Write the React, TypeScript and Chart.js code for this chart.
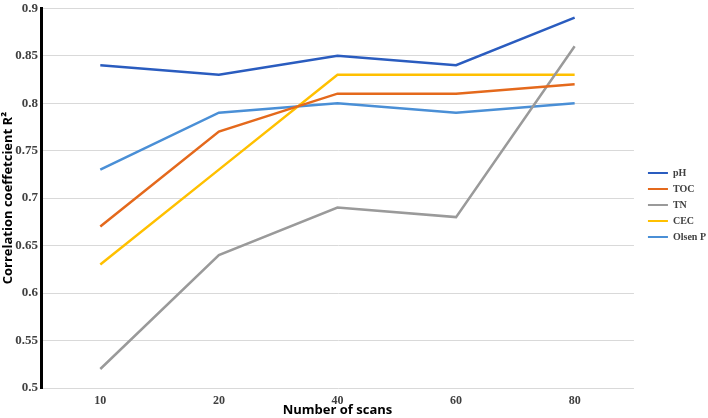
import { useEffect, useRef } from 'react';
import { Chart, registerables } from 'chart.js';

Chart.register(...registerables);

const scans = ['10', '20', '40', '60', '80'];
const pH = [0.84, 0.83, 0.85, 0.84, 0.89];
const toc = [0.67, 0.77, 0.81, 0.81, 0.82];
const tn = [0.52, 0.64, 0.69, 0.68, 0.86];
const cec = [0.63, 0.73, 0.83, 0.83, 0.83];
const olsenP = [0.73, 0.79, 0.8, 0.79, 0.8];

const serif = '"Liberation Serif", "Times New Roman", serif';
const sans = '"Open Sans", "Noto Sans", sans-serif';

// nudge legend a bit right of the plot, like the original
const legendShift = {
    id: 'legendShift',
    afterLayout(chart: any) {
        if (chart.legend) {
            chart.legend.left += 8;
            chart.legend.right += 8;
            chart.legend.top -= 4;
            chart.legend.bottom -= 4;
        }
    },
};

export default function App() {
    const canvasRef = useRef<HTMLCanvasElement>(null);

    useEffect(() => {
        const line = (label: string, data: number[], color: string) => ({
            label,
            data,
            borderColor: color,
            backgroundColor: color,
            borderWidth: 2.5,
            pointRadius: 0,
            tension: 0,
        });

        const chart = new Chart(canvasRef.current as HTMLCanvasElement, {
            type: 'line',
            data: {
                labels: scans,
                datasets: [
                    line('pH', pH, '#2a5cbf'),
                    line('TOC', toc, '#e4691c'),
                    line('TN', tn, '#9a9a9a'),
                    line('CEC', cec, '#ffc000'),
                    line('Olsen P', olsenP, '#4a8fd6'),
                ],
            },
            options: {
                responsive: true,
                maintainAspectRatio: false,
                animation: false,
                layout: { padding: 0 },
                plugins: {
                    tooltip: { enabled: false },
                    legend: {
                        position: 'right',
                        labels: {
                            boxWidth: 20,
                            boxHeight: 2,
                            padding: 6,
                            color: '#404040',
                            font: { family: serif, size: 10, weight: 'bold' },
                            generateLabels: (c: any) =>
                                Chart.defaults.plugins.legend.labels.generateLabels(c).map((l: any) => ({
                                    ...l,
                                    strokeStyle: 'rgba(0,0,0,0)',
                                })),
                        },
                    },
                },
                scales: {
                    x: {
                        offset: true,
                        grid: { display: false, drawTicks: false },
                        border: { display: false },
                        ticks: {
                            padding: 6,
                            color: '#404040',
                            font: { family: serif, size: 12, weight: 'bold' },
                        },
                        title: {
                            display: true,
                            text: 'Number of scans',
                            color: '#000',
                            padding: 0,
                            font: { family: sans, size: 13, weight: 'bold' },
                        },
                        afterFit: (s: any) => { s.height = 30; },
                    },
                    y: {
                        min: 0.5,
                        max: 0.9,
                        ticks: {
                            stepSize: 0.05,
                            padding: 3,
                            color: '#404040',
                            font: { family: serif, size: 13, weight: 'bold', lineHeight: 0.8 },
                            callback: (v: any) => String(Number(Number(v).toFixed(2))),
                        },
                        grid: { color: '#d9d9d9', lineWidth: 1, drawTicks: false },
                        border: { display: true, color: '#000', width: 3 },
                        title: {
                            display: true,
                            text: 'Correlation coeffetcient R\u00b2',
                            color: '#000',
                            padding: 0,
                            font: { family: sans, size: 13, weight: 'bold' },
                        },
                        afterFit: (s: any) => { s.width = 41; },
                    },
                },
            },
            plugins: [legendShift],
        });
        return () => chart.destroy();
    }, []);

    return (
        <div style={{ position: 'absolute', left: 0, top: 0, width: '708px', height: '418px', background: '#fff' }}>
            <canvas ref={canvasRef} />
        </div>
    );
}
